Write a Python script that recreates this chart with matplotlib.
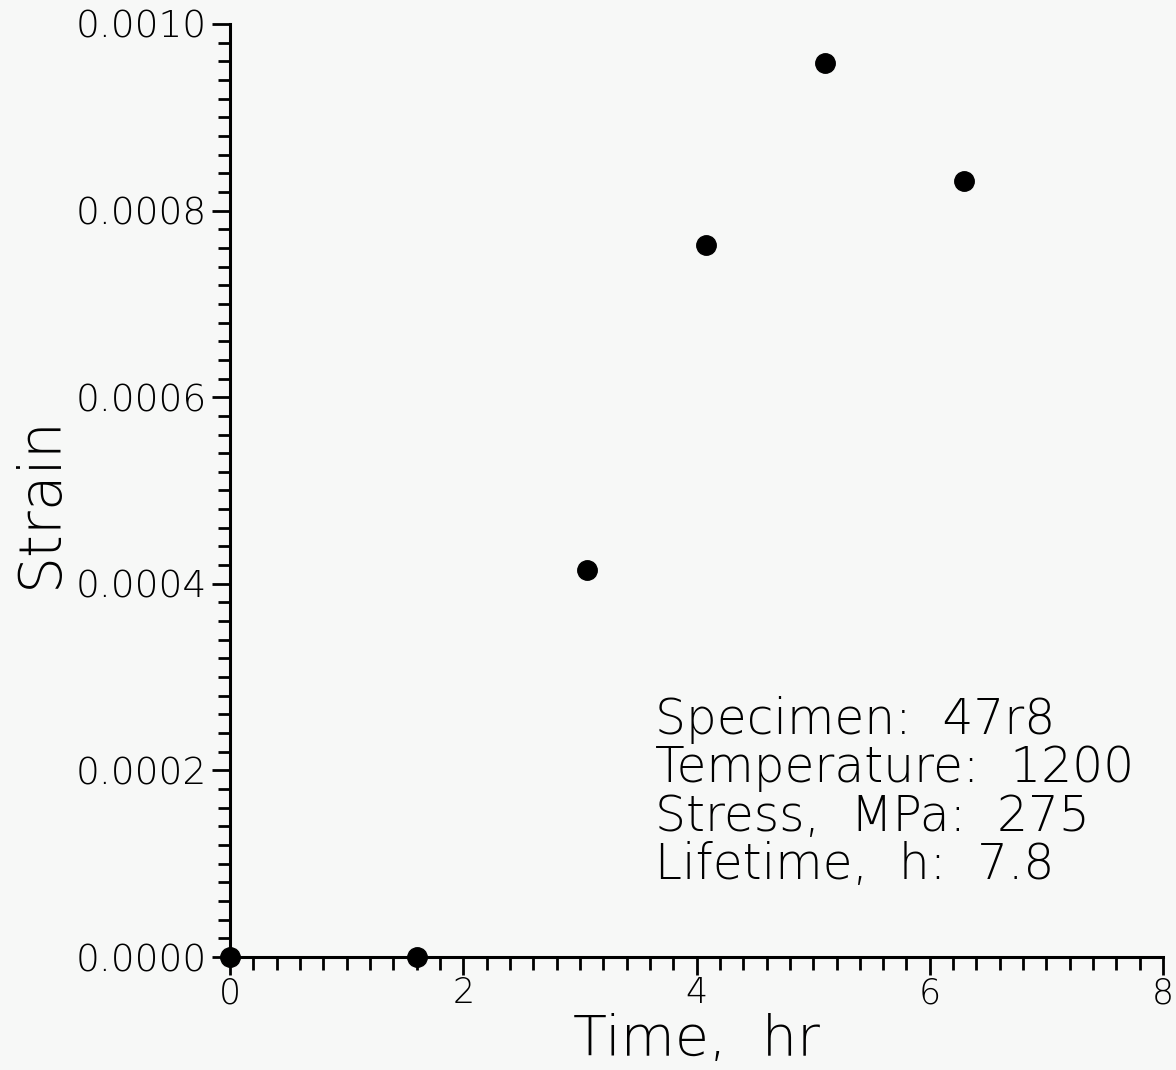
import matplotlib.pyplot as plt
from matplotlib.ticker import MultipleLocator, FormatStrFormatter

# data
time_hr = [0.0, 1.6, 3.06, 4.08, 5.10, 6.29]
strain = [0.0, 0.0, 0.000415, 0.000763, 0.000958, 0.000832]
info_lines = ["Specimen:  47r8", "Temperature:  1200", "Stress,  MPa:  275", "Lifetime,  h:  7.8"]

plt.rcParams["font.family"] = ["DejaVu Sans"]
plt.rcParams["font.weight"] = "light"
plt.rcParams["axes.labelweight"] = "light"

fig = plt.figure(figsize=(11.76, 10.70), dpi=100)
ax = fig.add_axes([0.1956, 0.1056, 0.7934, 0.872])

ax.plot(time_hr, strain, "o", color="black", markersize=14, clip_on=False, zorder=5)

ax.set_xlim(0, 8)
ax.set_ylim(0, 0.0010)
ax.xaxis.set_major_locator(MultipleLocator(2))
ax.xaxis.set_minor_locator(MultipleLocator(0.2))
ax.yaxis.set_major_locator(MultipleLocator(0.0002))
ax.yaxis.set_minor_locator(MultipleLocator(0.00002))
ax.yaxis.set_major_formatter(FormatStrFormatter("%.4f"))
ax.xaxis.set_major_formatter(FormatStrFormatter("%d"))

for s in ["top", "right"]:
    ax.spines[s].set_visible(False)
for s in ["left", "bottom"]:
    ax.spines[s].set_linewidth(2.2)

ax.tick_params(which="major", direction="out", length=13, width=2, labelsize=27, pad=4)
ax.tick_params(which="minor", direction="out", length=9, width=2)
ax.tick_params(axis="x", which="major", labelsize=25, pad=1)

ax.set_xlabel("Time,  hr", fontsize=40)
ax.set_ylabel("Strain", fontsize=42)
ax.xaxis.set_label_coords(0.5, -0.06)
ax.yaxis.set_label_coords(-0.172, 0.488)

ax.text(0.4555, 0.28, "\n".join(info_lines), transform=ax.transAxes,
        fontsize=35, va="top", ha="left", linespacing=1.01)

fig.patch.set_facecolor("#f7f8f7")
ax.set_facecolor("#f7f8f7")

plt.savefig("out.png", dpi=100, facecolor=fig.get_facecolor())
